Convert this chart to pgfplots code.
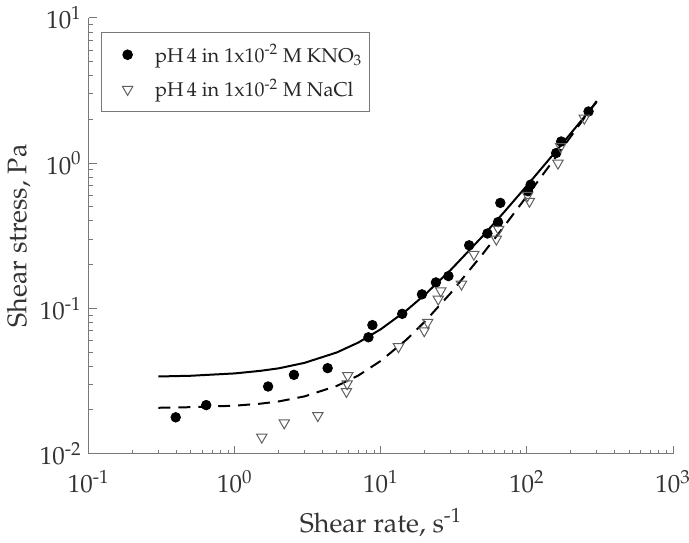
\documentclass[border=0pt]{standalone}
\usepackage[T1]{fontenc}
\usepackage{mathpazo}
\usepackage{pgfplots}
\pgfplotsset{compat=1.18}
\usetikzlibrary{calc}
\definecolor{axgray}{RGB}{120,120,120}
\definecolor{trigray}{RGB}{95,95,95}
\pgfplotsset{
  mylegimg/.style={legend image code/.code={\draw[##1] plot coordinates {(0pt,0pt)}; \path (-11.5pt,0pt) (8.5pt,0pt);}},
}
\begin{document}
\begin{tikzpicture}
\begin{axis}[
  scale only axis, width=293pt, height=218.5pt,
  xmode=log, ymode=log,
  xmin=0.1, xmax=1000, ymin=0.01, ymax=10,
  axis x line=bottom, axis y line=left,
  axis line style={-, axgray, line width=0.6pt},
  tick align=inside, tick style={axgray, line width=0.5pt},
  major tick length=4pt, minor tick length=2pt,
  ticklabel style={font=\fontsize{12.5}{14}\selectfont, text=black!80},
  xtick={0.1,1,10,100,1000}, ytick={0.01,0.1,1,10},
  xticklabels={10\textsuperscript{-1},10\textsuperscript{0},10\textsuperscript{1},10\textsuperscript{2},10\textsuperscript{3}},
  yticklabels={10\textsuperscript{-2},10\textsuperscript{-1},10\textsuperscript{0},10\textsuperscript{1}},
  xticklabel style={yshift=-5pt},
  xlabel={Shear rate, s\textsuperscript{-1}}, ylabel={Shear stress, Pa},
  label style={font=\fontsize{13.5}{16}\selectfont, text=black!80},
  xlabel style={at={(rel axis cs:0.5,0)}, anchor=base, yshift=-39.5pt},
  ylabel style={at={(rel axis cs:0,0.5)}, anchor=center, yshift=35pt},
  clip=false,
  legend cell align=left,
  legend style={at={(rel axis cs:0,1)}, anchor=north west, xshift=6pt, yshift=-7pt,
    draw=axgray, line width=0.5pt, font=\fontsize{10}{12}\selectfont, text=black!85,
    row sep=3pt, column sep=3pt, inner xsep=1.5pt, inner ysep=4pt},
]
\coordinate (SW) at (rel axis cs:0,0);
\coordinate (NE) at (rel axis cs:1,1);
% fitted curves
\addplot[black, line width=1pt, forget plot] coordinates {
(0.3,0.0340)(0.5,0.0344)(1,0.0357)(1.5,0.0372)(2,0.0387)(3,0.0422)(5,0.0498)(7,0.0582)
(10,0.0720)(15,0.0971)(20,0.1243)(30,0.1837)(50,0.3163)(70,0.4625)(100,0.7009)
(150,1.137)(200,1.609)(300,2.638)};
\addplot[black, line width=1pt, dash pattern=on 6pt off 4pt, forget plot] coordinates {
(0.3,0.0207)(0.5,0.0209)(1,0.0214)(1.5,0.0221)(2,0.0229)(3,0.0248)(5,0.0293)(7,0.0345)
(10,0.0436)(15,0.0611)(20,0.0812)(30,0.1273)(50,0.2385)(70,0.3691)(100,0.5943)
(150,1.031)(200,1.531)(300,2.680)};
% KNO3
\addplot[only marks, mark=*, mark size=2.4pt, mark options={fill=black, draw=black}, mylegimg] coordinates {
(0.394,0.0178)(0.637,0.0216)(1.69,0.029)(2.54,0.0349)(4.32,0.0388)(8.22,0.0633)(8.75,0.0768)
(14.0,0.0918)(19.1,0.125)(23.8,0.151)(29.0,0.167)(40.2,0.272)(53.6,0.328)(63.4,0.393)
(65.7,0.533)(101.6,0.641)(106,0.712)(158.5,1.175)(171.5,1.41)(264,2.27)};
\addlegendentry{pH\,4 in 1x10\textsuperscript{-2} M KNO\textsubscript{3}}
% NaCl
\addplot[only marks, mark=triangle, mark size=3pt, mark options={rotate=180, draw=trigray, fill=white, line width=0.5pt}, mylegimg] coordinates {
(1.53,0.0130)(2.18,0.0163)(3.70,0.0183)(5.93,0.0345)(5.88,0.0303)(5.81,0.0268)(13.2,0.0545)
(19.8,0.0702)(20.9,0.0802)(24.7,0.116)(25.7,0.132)(35.6,0.147)(43.3,0.236)(61.7,0.30)
(64,0.35)(104,0.547)(101,0.60)(163,1.0)(170,1.3)(247,2.04)};
\addlegendentry{pH\,4 in 1x10\textsuperscript{-2} M NaCl}
\end{axis}
\pgfresetboundingbox
\path ($(SW)+(-44.5pt,-44.5pt)$) rectangle ($(NE)+(8pt,9pt)$);
\end{tikzpicture}
\end{document}
